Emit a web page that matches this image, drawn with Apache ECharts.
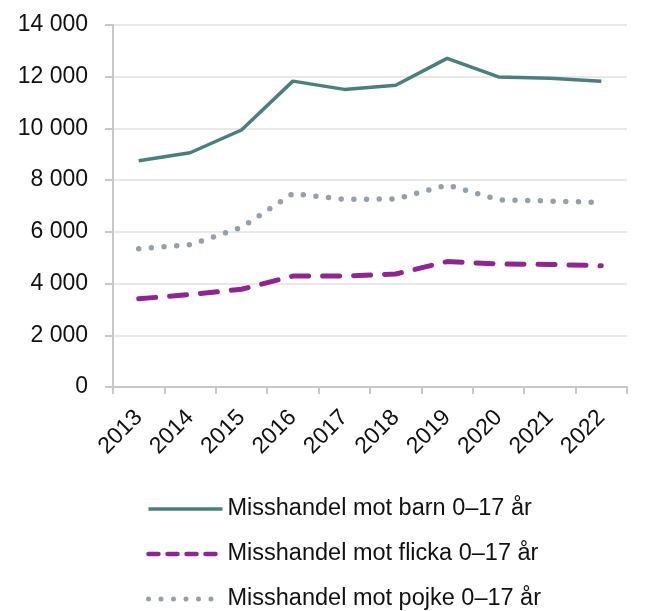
<!DOCTYPE html>
<html>
<head>
<meta charset="utf-8">
<script src="https://cdn.jsdelivr.net/npm/echarts@6/dist/echarts.min.js"></script>
<style>
html,body{margin:0;padding:0;background:#fff;}
#chart{width:661px;height:611px;}
</style>
</head>
<body>
<div id="chart"></div>
<script>
const years = ['2013','2014','2015','2016','2017','2018','2019','2020','2021','2022'];
const seriesNames = ['Misshandel mot barn 0–17 år','Misshandel mot flicka 0–17 år','Misshandel mot pojke 0–17 år'];
const barn   = [8750, 9060, 9940, 11830, 11510, 11670, 12710, 11990, 11940, 11820];
const flicka = [3410, 3580, 3780, 4290, 4290, 4370, 4850, 4760, 4740, 4690];
const pojke  = [5350, 5500, 6170, 7480, 7260, 7270, 7810, 7240, 7190, 7140];
const yTicks = [0, 2000, 4000, 6000, 8000, 10000, 12000, 14000];

const FONT = 'Liberation Sans';
const C_BARN = '#4b7f7c', C_FLICKA = '#8f2590', C_POJKE = '#95a0aa';
const chart = echarts.init(document.getElementById('chart'), null, {renderer:'canvas'});
chart.setOption({
  animation:false,
  textStyle:{fontFamily:FONT},
  grid:{left:113, right:34, top:25, bottom:224, containLabel:false},
  legend:{
    orient:'vertical', left:146, top:497, width:510, height:114, padding:0,
    itemWidth:74, itemHeight:14, itemGap:21, itemTextGap:7,
    itemStyle:{opacity:0},
    textStyle:{fontFamily:FONT, fontSize:23.5, color:'#111'},
    data:[
      {name:seriesNames[0], lineStyle:{width:3.5}},
      {name:seriesNames[1], lineStyle:{type:[10,9], width:4.5, cap:'round'}},
      {name:seriesNames[2], lineStyle:{type:[0,12.5], width:5, cap:'round'}}
    ]
  },
  xAxis:{
    type:'category', data:years, boundaryGap:true,
    axisLine:{lineStyle:{color:'#c8c8c8', width:2}},
    axisTick:{show:true, length:7, lineStyle:{color:'#c8c8c8', width:2}},
    axisLabel:{rotate:45, fontSize:23, color:'#111', fontFamily:FONT, margin:27}
  },
  yAxis:{
    type:'value', min:0, max:14000, interval:2000,
    axisLine:{show:true, lineStyle:{color:'#c8c8c8', width:2}},
    axisTick:{show:true, length:8, lineStyle:{color:'#c8c8c8', width:2}},
    splitLine:{show:true, lineStyle:{color:'#e2e2e2', width:1.5}},
    axisLabel:{fontSize:23, color:'#111', fontFamily:FONT, margin:25,
      formatter:function(v){ return v>=1000 ? String(v).replace(/\B(?=(\d{3})+(?!\d))/g,' ') : String(v); }}
  },
  series:[
    {name:seriesNames[0], type:'line', data:barn, symbol:'none', z:3,
     lineStyle:{color:C_BARN, width:3.5}, itemStyle:{color:C_BARN}},
    {name:seriesNames[1], type:'line', data:flicka, symbol:'none', z:2,
     lineStyle:{color:C_FLICKA, width:5, type:[17,14], cap:'round'}, itemStyle:{color:C_FLICKA}},
    {name:seriesNames[2], type:'line', data:pojke, symbol:'none', z:1,
     lineStyle:{color:C_POJKE, width:5.5, type:[0,12.7], cap:'round'}, itemStyle:{color:C_POJKE}}
  ]
});
</script>
</body>
</html>
